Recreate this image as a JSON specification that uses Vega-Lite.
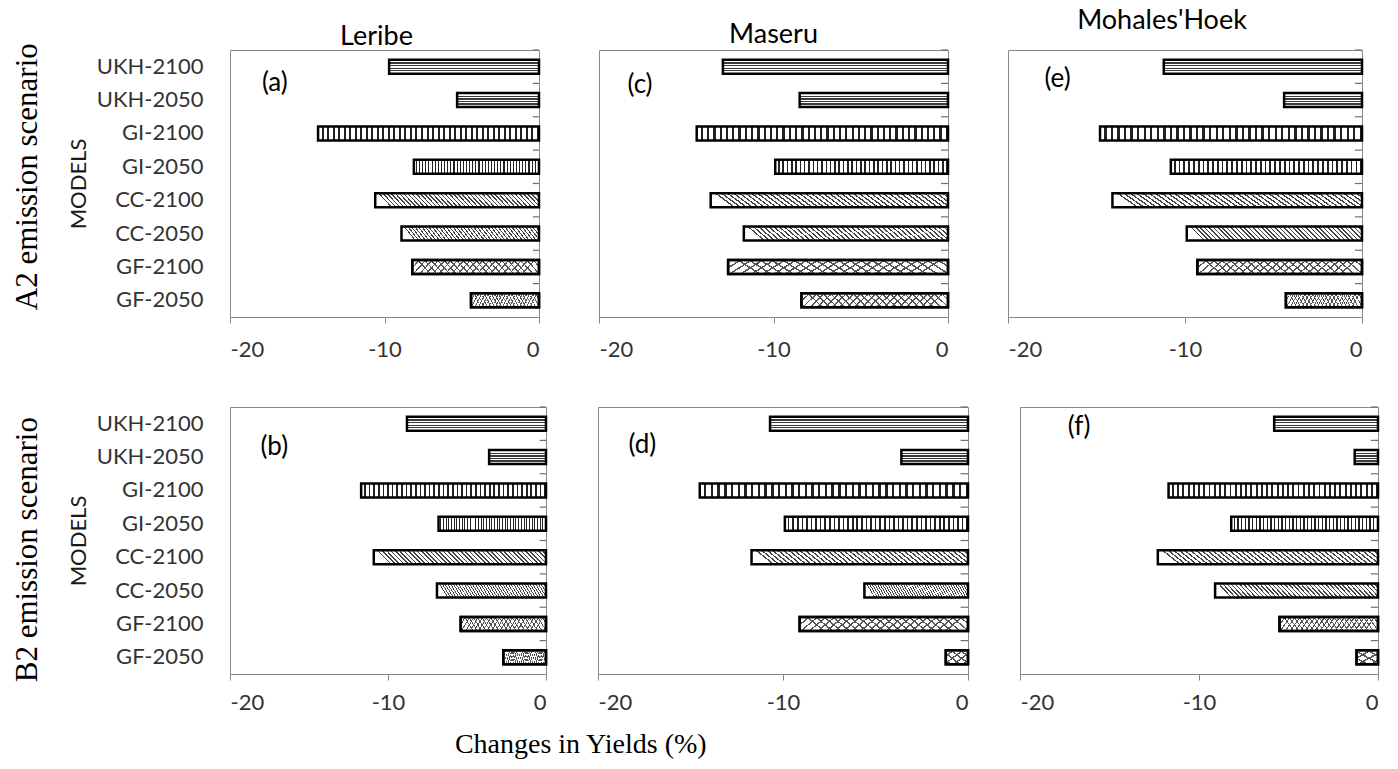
{
"$schema": "https://vega.github.io/schema/vega-lite/v6.json",
"background": "white",
"padding": {"left": 11, "right": 5, "top": 6, "bottom": 5},
"spacing": 44,
"title": {"text": "Changes in Yields (%)", "orient": "bottom", "font": "Liberation Serif", "fontSize": 28, "fontWeight": "normal", "color": "black", "anchor": "middle", "dx": -115, "offset": 17},
"datasets": {"yields": [
{"scenario":"A2","site":"Leribe","model":"UKH-2100","gcm":"UKH","change":-9.7},
{"scenario":"A2","site":"Leribe","model":"UKH-2050","gcm":"UKH","change":-5.3},
{"scenario":"A2","site":"Leribe","model":"GI-2100","gcm":"GI","change":-14.3},
{"scenario":"A2","site":"Leribe","model":"GI-2050","gcm":"GI","change":-8.1},
{"scenario":"A2","site":"Leribe","model":"CC-2100","gcm":"CC","change":-10.6},
{"scenario":"A2","site":"Leribe","model":"CC-2050","gcm":"CC","change":-8.9},
{"scenario":"A2","site":"Leribe","model":"GF-2100","gcm":"GF","change":-8.2},
{"scenario":"A2","site":"Leribe","model":"GF-2050","gcm":"GF","change":-4.4},
{"scenario":"A2","site":"Maseru","model":"UKH-2100","gcm":"UKH","change":-12.9},
{"scenario":"A2","site":"Maseru","model":"UKH-2050","gcm":"UKH","change":-8.5},
{"scenario":"A2","site":"Maseru","model":"GI-2100","gcm":"GI","change":-14.4},
{"scenario":"A2","site":"Maseru","model":"GI-2050","gcm":"GI","change":-9.9},
{"scenario":"A2","site":"Maseru","model":"CC-2100","gcm":"CC","change":-13.6},
{"scenario":"A2","site":"Maseru","model":"CC-2050","gcm":"CC","change":-11.7},
{"scenario":"A2","site":"Maseru","model":"GF-2100","gcm":"GF","change":-12.6},
{"scenario":"A2","site":"Maseru","model":"GF-2050","gcm":"GF","change":-8.4},
{"scenario":"A2","site":"Mohales'Hoek","model":"UKH-2100","gcm":"UKH","change":-11.2},
{"scenario":"A2","site":"Mohales'Hoek","model":"UKH-2050","gcm":"UKH","change":-4.4},
{"scenario":"A2","site":"Mohales'Hoek","model":"GI-2100","gcm":"GI","change":-14.8},
{"scenario":"A2","site":"Mohales'Hoek","model":"GI-2050","gcm":"GI","change":-10.8},
{"scenario":"A2","site":"Mohales'Hoek","model":"CC-2100","gcm":"CC","change":-14.1},
{"scenario":"A2","site":"Mohales'Hoek","model":"CC-2050","gcm":"CC","change":-9.9},
{"scenario":"A2","site":"Mohales'Hoek","model":"GF-2100","gcm":"GF","change":-9.3},
{"scenario":"A2","site":"Mohales'Hoek","model":"GF-2050","gcm":"GF","change":-4.3},
{"scenario":"B2","site":"Leribe","model":"UKH-2100","gcm":"UKH","change":-8.8},
{"scenario":"B2","site":"Leribe","model":"UKH-2050","gcm":"UKH","change":-3.6},
{"scenario":"B2","site":"Leribe","model":"GI-2100","gcm":"GI","change":-11.7},
{"scenario":"B2","site":"Leribe","model":"GI-2050","gcm":"GI","change":-6.8},
{"scenario":"B2","site":"Leribe","model":"CC-2100","gcm":"CC","change":-10.9},
{"scenario":"B2","site":"Leribe","model":"CC-2050","gcm":"CC","change":-6.9},
{"scenario":"B2","site":"Leribe","model":"GF-2100","gcm":"GF","change":-5.4},
{"scenario":"B2","site":"Leribe","model":"GF-2050","gcm":"GF","change":-2.7},
{"scenario":"B2","site":"Maseru","model":"UKH-2100","gcm":"UKH","change":-10.7},
{"scenario":"B2","site":"Maseru","model":"UKH-2050","gcm":"UKH","change":-3.6},
{"scenario":"B2","site":"Maseru","model":"GI-2100","gcm":"GI","change":-14.5},
{"scenario":"B2","site":"Maseru","model":"GI-2050","gcm":"GI","change":-9.9},
{"scenario":"B2","site":"Maseru","model":"CC-2100","gcm":"CC","change":-11.7},
{"scenario":"B2","site":"Maseru","model":"CC-2050","gcm":"CC","change":-5.6},
{"scenario":"B2","site":"Maseru","model":"GF-2100","gcm":"GF","change":-9.1},
{"scenario":"B2","site":"Maseru","model":"GF-2050","gcm":"GF","change":-1.2},
{"scenario":"B2","site":"Mohales'Hoek","model":"UKH-2100","gcm":"UKH","change":-5.8},
{"scenario":"B2","site":"Mohales'Hoek","model":"UKH-2050","gcm":"UKH","change":-1.3},
{"scenario":"B2","site":"Mohales'Hoek","model":"GI-2100","gcm":"GI","change":-11.7},
{"scenario":"B2","site":"Mohales'Hoek","model":"GI-2050","gcm":"GI","change":-8.2},
{"scenario":"B2","site":"Mohales'Hoek","model":"CC-2100","gcm":"CC","change":-12.3},
{"scenario":"B2","site":"Mohales'Hoek","model":"CC-2050","gcm":"CC","change":-9.1},
{"scenario":"B2","site":"Mohales'Hoek","model":"GF-2100","gcm":"GF","change":-5.5},
{"scenario":"B2","site":"Mohales'Hoek","model":"GF-2050","gcm":"GF","change":-1.2}
]},
"vconcat": [
{
"hconcat": [
{
"width": 309, "height": 267,
"title": {"text": "Leribe", "offset": -2, "dx": -8},
"data": {"name": "yields"},
"transform": [{"filter": {"and": [{"field": "scenario", "equal": "A2"}, {"field": "site", "equal": "Leribe"}]}}],
"encoding": {
"x": {"field": "change", "type": "quantitative", "scale": {"domain": [-20, 0], "nice": false, "zero": false}, "axis": {"values": [-20, -10, 0], "title": null, "tickSize": 6, "labelPadding": 16, "labelExpr": "'' + datum.value"}},
"y": {"field": "model", "type": "nominal", "scale": {"domain": ["UKH-2100","UKH-2050","GI-2100","GI-2050","CC-2100","CC-2050","GF-2100","GF-2050"], "paddingInner": 0.58, "paddingOuter": 0.29}, "axis": null}
},
"layer": [
{"transform": [{"filter": {"field": "gcm", "equal": "UKH"}}], "mark": {"type": "bar", "style": "ukh"}, "encoding": {"y": {"field": "model", "type": "nominal", "scale": {"domain": ["UKH-2100","UKH-2050","GI-2100","GI-2050","CC-2100","CC-2050","GF-2100","GF-2050"], "paddingInner": 0.58, "paddingOuter": 0.29}, "axis": {"orient": "left", "ticks": false, "domain": false, "labelPadding": 27, "labelFontSize": 22, "title": "MODELS", "titleFontSize": 22, "titleFontWeight": "normal", "titleColor": "#1a1a1a", "titlePadding": 6}}}},
{"transform": [{"filter": {"field": "gcm", "equal": "GI"}}], "mark": {"type": "bar", "style": "gi"}},
{"transform": [{"filter": {"field": "gcm", "equal": "CC"}}], "mark": {"type": "bar", "style": "cc"}},
{"transform": [{"filter": {"field": "gcm", "equal": "GF"}}], "mark": {"type": "bar", "style": "gf1"}},
{"transform": [{"filter": {"field": "gcm", "equal": "GF"}}], "mark": {"type": "bar", "style": "gf2"}},
{"mark": {"type": "rule", "color": "#6f6f6f", "strokeWidth": 1.2}, "encoding": {"x": {"datum": -0.4, "type": "quantitative", "scale": {"domain": [-20, 0], "nice": false, "zero": false}, "axis": {"values": [-20, -10, 0], "title": null, "tickSize": 6, "labelPadding": 16, "labelExpr": "'' + datum.value"}}, "x2": {"datum": 0}, "y": {"field": "model", "type": "nominal", "bandPosition": -0.6905, "scale": {"domain": ["UKH-2100","UKH-2050","GI-2100","GI-2050","CC-2100","CC-2050","GF-2100","GF-2050"], "paddingInner": 0.58, "paddingOuter": 0.29}, "axis": null}}},
{"transform": [{"filter": {"field": "model", "equal": "UKH-2100"}}], "mark": {"type": "text", "text": "(a)", "fontSize": 26, "font": "Lato", "color": "black", "dy": 16}, "encoding": {"x": {"datum": -17.1, "type": "quantitative", "scale": {"domain": [-20, 0], "nice": false, "zero": false}, "axis": {"values": [-20, -10, 0], "title": null, "tickSize": 6, "labelPadding": 16, "labelExpr": "'' + datum.value"}}, "y": {"datum": "UKH-2100", "type": "nominal", "scale": {"domain": ["UKH-2100","UKH-2050","GI-2100","GI-2050","CC-2100","CC-2050","GF-2100","GF-2050"], "paddingInner": 0.58, "paddingOuter": 0.29}, "axis": null}}}
],
"resolve": {"axis": {"y": "independent"}}
},
{
"width": 349, "height": 267,
"title": {"text": "Maseru", "offset": 0, "dx": 0},
"data": {"name": "yields"},
"transform": [{"filter": {"and": [{"field": "scenario", "equal": "A2"}, {"field": "site", "equal": "Maseru"}]}}],
"encoding": {
"x": {"field": "change", "type": "quantitative", "scale": {"domain": [-20, 0], "nice": false, "zero": false}, "axis": {"values": [-20, -10, 0], "title": null, "tickSize": 6, "labelPadding": 16, "labelExpr": "'' + datum.value"}},
"y": {"field": "model", "type": "nominal", "scale": {"domain": ["UKH-2100","UKH-2050","GI-2100","GI-2050","CC-2100","CC-2050","GF-2100","GF-2050"], "paddingInner": 0.58, "paddingOuter": 0.29}, "axis": null}
},
"layer": [
{"transform": [{"filter": {"field": "gcm", "equal": "UKH"}}], "mark": {"type": "bar", "style": "ukh"}},
{"transform": [{"filter": {"field": "gcm", "equal": "GI"}}], "mark": {"type": "bar", "style": "gi"}},
{"transform": [{"filter": {"field": "gcm", "equal": "CC"}}], "mark": {"type": "bar", "style": "cc"}},
{"transform": [{"filter": {"field": "gcm", "equal": "GF"}}], "mark": {"type": "bar", "style": "gf1"}},
{"transform": [{"filter": {"field": "gcm", "equal": "GF"}}], "mark": {"type": "bar", "style": "gf2"}},
{"mark": {"type": "rule", "color": "#6f6f6f", "strokeWidth": 1.2}, "encoding": {"x": {"datum": -0.4, "type": "quantitative", "scale": {"domain": [-20, 0], "nice": false, "zero": false}, "axis": {"values": [-20, -10, 0], "title": null, "tickSize": 6, "labelPadding": 16, "labelExpr": "'' + datum.value"}}, "x2": {"datum": 0}, "y": {"field": "model", "type": "nominal", "bandPosition": -0.6905, "scale": {"domain": ["UKH-2100","UKH-2050","GI-2100","GI-2050","CC-2100","CC-2050","GF-2100","GF-2050"], "paddingInner": 0.58, "paddingOuter": 0.29}, "axis": null}}},
{"transform": [{"filter": {"field": "model", "equal": "UKH-2100"}}], "mark": {"type": "text", "text": "(c)", "fontSize": 26, "font": "Lato", "color": "black", "dy": 18}, "encoding": {"x": {"datum": -17.65, "type": "quantitative", "scale": {"domain": [-20, 0], "nice": false, "zero": false}, "axis": {"values": [-20, -10, 0], "title": null, "tickSize": 6, "labelPadding": 16, "labelExpr": "'' + datum.value"}}, "y": {"datum": "UKH-2100", "type": "nominal", "scale": {"domain": ["UKH-2100","UKH-2050","GI-2100","GI-2050","CC-2100","CC-2050","GF-2100","GF-2050"], "paddingInner": 0.58, "paddingOuter": 0.29}, "axis": null}}}
],
"resolve": {"axis": {"y": "independent"}}
},
{
"width": 354, "height": 267,
"title": {"text": "Mohales'Hoek", "offset": 14, "dx": -23},
"data": {"name": "yields"},
"transform": [{"filter": {"and": [{"field": "scenario", "equal": "A2"}, {"field": "site", "equal": "Mohales'Hoek"}]}}],
"encoding": {
"x": {"field": "change", "type": "quantitative", "scale": {"domain": [-20, 0], "nice": false, "zero": false}, "axis": {"values": [-20, -10, 0], "title": null, "tickSize": 6, "labelPadding": 16, "labelExpr": "'' + datum.value"}},
"y": {"field": "model", "type": "nominal", "scale": {"domain": ["UKH-2100","UKH-2050","GI-2100","GI-2050","CC-2100","CC-2050","GF-2100","GF-2050"], "paddingInner": 0.58, "paddingOuter": 0.29}, "axis": null}
},
"layer": [
{"transform": [{"filter": {"field": "gcm", "equal": "UKH"}}], "mark": {"type": "bar", "style": "ukh"}},
{"transform": [{"filter": {"field": "gcm", "equal": "GI"}}], "mark": {"type": "bar", "style": "gi"}},
{"transform": [{"filter": {"field": "gcm", "equal": "CC"}}], "mark": {"type": "bar", "style": "cc"}},
{"transform": [{"filter": {"field": "gcm", "equal": "GF"}}], "mark": {"type": "bar", "style": "gf1"}},
{"transform": [{"filter": {"field": "gcm", "equal": "GF"}}], "mark": {"type": "bar", "style": "gf2"}},
{"mark": {"type": "rule", "color": "#6f6f6f", "strokeWidth": 1.2}, "encoding": {"x": {"datum": -0.4, "type": "quantitative", "scale": {"domain": [-20, 0], "nice": false, "zero": false}, "axis": {"values": [-20, -10, 0], "title": null, "tickSize": 6, "labelPadding": 16, "labelExpr": "'' + datum.value"}}, "x2": {"datum": 0}, "y": {"field": "model", "type": "nominal", "bandPosition": -0.6905, "scale": {"domain": ["UKH-2100","UKH-2050","GI-2100","GI-2050","CC-2100","CC-2050","GF-2100","GF-2050"], "paddingInner": 0.58, "paddingOuter": 0.29}, "axis": null}}},
{"transform": [{"filter": {"field": "model", "equal": "UKH-2100"}}], "mark": {"type": "text", "text": "(e)", "fontSize": 26, "font": "Lato", "color": "black", "dy": 12}, "encoding": {"x": {"datum": -17.2, "type": "quantitative", "scale": {"domain": [-20, 0], "nice": false, "zero": false}, "axis": {"values": [-20, -10, 0], "title": null, "tickSize": 6, "labelPadding": 16, "labelExpr": "'' + datum.value"}}, "y": {"datum": "UKH-2100", "type": "nominal", "scale": {"domain": ["UKH-2100","UKH-2050","GI-2100","GI-2050","CC-2100","CC-2050","GF-2100","GF-2050"], "paddingInner": 0.58, "paddingOuter": 0.29}, "axis": null}}}
],
"resolve": {"axis": {"y": "independent"}}
}
],
"spacing": 60,
"bounds": "flush",
"title": {"text": "A2 emission scenario", "orient": "left", "font": "Liberation Serif", "fontSize": 31, "fontWeight": "normal", "color": "black", "anchor": "middle", "offset": 23, "dx": 7}
},
{
"hconcat": [
{
"width": 316, "height": 267,
"data": {"name": "yields"},
"transform": [{"filter": {"and": [{"field": "scenario", "equal": "B2"}, {"field": "site", "equal": "Leribe"}]}}],
"encoding": {
"x": {"field": "change", "type": "quantitative", "scale": {"domain": [-20, 0], "nice": false, "zero": false}, "axis": {"values": [-20, -10, 0], "title": null, "tickSize": 6, "labelPadding": 12, "labelExpr": "'' + datum.value"}},
"y": {"field": "model", "type": "nominal", "scale": {"domain": ["UKH-2100","UKH-2050","GI-2100","GI-2050","CC-2100","CC-2050","GF-2100","GF-2050"], "paddingInner": 0.58, "paddingOuter": 0.29}, "axis": null}
},
"layer": [
{"transform": [{"filter": {"field": "gcm", "equal": "UKH"}}], "mark": {"type": "bar", "style": "ukh"}, "encoding": {"y": {"field": "model", "type": "nominal", "scale": {"domain": ["UKH-2100","UKH-2050","GI-2100","GI-2050","CC-2100","CC-2050","GF-2100","GF-2050"], "paddingInner": 0.58, "paddingOuter": 0.29}, "axis": {"orient": "left", "ticks": false, "domain": false, "labelPadding": 27, "labelFontSize": 22, "title": "MODELS", "titleFontSize": 22, "titleFontWeight": "normal", "titleColor": "#1a1a1a", "titlePadding": 6}}}},
{"transform": [{"filter": {"field": "gcm", "equal": "GI"}}], "mark": {"type": "bar", "style": "gi"}},
{"transform": [{"filter": {"field": "gcm", "equal": "CC"}}], "mark": {"type": "bar", "style": "cc"}},
{"transform": [{"filter": {"field": "gcm", "equal": "GF"}}], "mark": {"type": "bar", "style": "gf1"}},
{"transform": [{"filter": {"field": "gcm", "equal": "GF"}}], "mark": {"type": "bar", "style": "gf2"}},
{"mark": {"type": "rule", "color": "#6f6f6f", "strokeWidth": 1.2}, "encoding": {"x": {"datum": -0.4, "type": "quantitative", "scale": {"domain": [-20, 0], "nice": false, "zero": false}, "axis": {"values": [-20, -10, 0], "title": null, "tickSize": 6, "labelPadding": 12, "labelExpr": "'' + datum.value"}}, "x2": {"datum": 0}, "y": {"field": "model", "type": "nominal", "bandPosition": -0.6905, "scale": {"domain": ["UKH-2100","UKH-2050","GI-2100","GI-2050","CC-2100","CC-2050","GF-2100","GF-2050"], "paddingInner": 0.58, "paddingOuter": 0.29}, "axis": null}}},
{"transform": [{"filter": {"field": "model", "equal": "UKH-2100"}}], "mark": {"type": "text", "text": "(b)", "fontSize": 26, "font": "Lato", "color": "black", "dy": 23}, "encoding": {"x": {"datum": -17.2, "type": "quantitative", "scale": {"domain": [-20, 0], "nice": false, "zero": false}, "axis": {"values": [-20, -10, 0], "title": null, "tickSize": 6, "labelPadding": 12, "labelExpr": "'' + datum.value"}}, "y": {"datum": "UKH-2100", "type": "nominal", "scale": {"domain": ["UKH-2100","UKH-2050","GI-2100","GI-2050","CC-2100","CC-2050","GF-2100","GF-2050"], "paddingInner": 0.58, "paddingOuter": 0.29}, "axis": null}}}
],
"resolve": {"axis": {"y": "independent"}}
},
{
"width": 370, "height": 267,
"data": {"name": "yields"},
"transform": [{"filter": {"and": [{"field": "scenario", "equal": "B2"}, {"field": "site", "equal": "Maseru"}]}}],
"encoding": {
"x": {"field": "change", "type": "quantitative", "scale": {"domain": [-20, 0], "nice": false, "zero": false}, "axis": {"values": [-20, -10, 0], "title": null, "tickSize": 6, "labelPadding": 12, "labelExpr": "'' + datum.value"}},
"y": {"field": "model", "type": "nominal", "scale": {"domain": ["UKH-2100","UKH-2050","GI-2100","GI-2050","CC-2100","CC-2050","GF-2100","GF-2050"], "paddingInner": 0.58, "paddingOuter": 0.29}, "axis": null}
},
"layer": [
{"transform": [{"filter": {"field": "gcm", "equal": "UKH"}}], "mark": {"type": "bar", "style": "ukh"}},
{"transform": [{"filter": {"field": "gcm", "equal": "GI"}}], "mark": {"type": "bar", "style": "gi"}},
{"transform": [{"filter": {"field": "gcm", "equal": "CC"}}], "mark": {"type": "bar", "style": "cc"}},
{"transform": [{"filter": {"field": "gcm", "equal": "GF"}}], "mark": {"type": "bar", "style": "gf1"}},
{"transform": [{"filter": {"field": "gcm", "equal": "GF"}}], "mark": {"type": "bar", "style": "gf2"}},
{"mark": {"type": "rule", "color": "#6f6f6f", "strokeWidth": 1.2}, "encoding": {"x": {"datum": -0.4, "type": "quantitative", "scale": {"domain": [-20, 0], "nice": false, "zero": false}, "axis": {"values": [-20, -10, 0], "title": null, "tickSize": 6, "labelPadding": 12, "labelExpr": "'' + datum.value"}}, "x2": {"datum": 0}, "y": {"field": "model", "type": "nominal", "bandPosition": -0.6905, "scale": {"domain": ["UKH-2100","UKH-2050","GI-2100","GI-2050","CC-2100","CC-2050","GF-2100","GF-2050"], "paddingInner": 0.58, "paddingOuter": 0.29}, "axis": null}}},
{"transform": [{"filter": {"field": "model", "equal": "UKH-2100"}}], "mark": {"type": "text", "text": "(d)", "fontSize": 26, "font": "Lato", "color": "black", "dy": 21}, "encoding": {"x": {"datum": -17.6, "type": "quantitative", "scale": {"domain": [-20, 0], "nice": false, "zero": false}, "axis": {"values": [-20, -10, 0], "title": null, "tickSize": 6, "labelPadding": 12, "labelExpr": "'' + datum.value"}}, "y": {"datum": "UKH-2100", "type": "nominal", "scale": {"domain": ["UKH-2100","UKH-2050","GI-2100","GI-2050","CC-2100","CC-2050","GF-2100","GF-2050"], "paddingInner": 0.58, "paddingOuter": 0.29}, "axis": null}}}
],
"resolve": {"axis": {"y": "independent"}}
},
{
"width": 358, "height": 267,
"data": {"name": "yields"},
"transform": [{"filter": {"and": [{"field": "scenario", "equal": "B2"}, {"field": "site", "equal": "Mohales'Hoek"}]}}],
"encoding": {
"x": {"field": "change", "type": "quantitative", "scale": {"domain": [-20, 0], "nice": false, "zero": false}, "axis": {"values": [-20, -10, 0], "title": null, "tickSize": 6, "labelPadding": 12, "labelExpr": "'' + datum.value"}},
"y": {"field": "model", "type": "nominal", "scale": {"domain": ["UKH-2100","UKH-2050","GI-2100","GI-2050","CC-2100","CC-2050","GF-2100","GF-2050"], "paddingInner": 0.58, "paddingOuter": 0.29}, "axis": null}
},
"layer": [
{"transform": [{"filter": {"field": "gcm", "equal": "UKH"}}], "mark": {"type": "bar", "style": "ukh"}},
{"transform": [{"filter": {"field": "gcm", "equal": "GI"}}], "mark": {"type": "bar", "style": "gi"}},
{"transform": [{"filter": {"field": "gcm", "equal": "CC"}}], "mark": {"type": "bar", "style": "cc"}},
{"transform": [{"filter": {"field": "gcm", "equal": "GF"}}], "mark": {"type": "bar", "style": "gf1"}},
{"transform": [{"filter": {"field": "gcm", "equal": "GF"}}], "mark": {"type": "bar", "style": "gf2"}},
{"mark": {"type": "rule", "color": "#6f6f6f", "strokeWidth": 1.2}, "encoding": {"x": {"datum": -0.4, "type": "quantitative", "scale": {"domain": [-20, 0], "nice": false, "zero": false}, "axis": {"values": [-20, -10, 0], "title": null, "tickSize": 6, "labelPadding": 12, "labelExpr": "'' + datum.value"}}, "x2": {"datum": 0}, "y": {"field": "model", "type": "nominal", "bandPosition": -0.6905, "scale": {"domain": ["UKH-2100","UKH-2050","GI-2100","GI-2050","CC-2100","CC-2050","GF-2100","GF-2050"], "paddingInner": 0.58, "paddingOuter": 0.29}, "axis": null}}},
{"transform": [{"filter": {"field": "model", "equal": "UKH-2100"}}], "mark": {"type": "text", "text": "(f)", "fontSize": 26, "font": "Lato", "color": "black", "dy": 3}, "encoding": {"x": {"datum": -16.7, "type": "quantitative", "scale": {"domain": [-20, 0], "nice": false, "zero": false}, "axis": {"values": [-20, -10, 0], "title": null, "tickSize": 6, "labelPadding": 12, "labelExpr": "'' + datum.value"}}, "y": {"datum": "UKH-2100", "type": "nominal", "scale": {"domain": ["UKH-2100","UKH-2050","GI-2100","GI-2050","CC-2100","CC-2050","GF-2100","GF-2050"], "paddingInner": 0.58, "paddingOuter": 0.29}, "axis": null}}}
],
"resolve": {"axis": {"y": "independent"}}
}
],
"spacing": 52,
"bounds": "flush",
"title": {"text": "B2 emission scenario", "orient": "left", "font": "Liberation Serif", "fontSize": 31, "fontWeight": "normal", "color": "black", "anchor": "middle", "offset": 23, "dx": 10}
}
],
"config": {
"view": {"stroke": "#898989", "strokeWidth": 1},
"axis": {"labelFont": "Lato", "labelFontSize": 22, "labelColor": "#333333", "domainColor": "#898989", "tickColor": "#898989", "titleFont": "Lato", "grid": false},
"title": {"font": "Lato", "fontSize": 27, "fontWeight": "normal", "color": "black"},
"style": {
"ukh": {"stroke": "#000000", "strokeWidth": 2.5, "color": {"gradient": "linear", "x1": 0, "y1": 0, "x2": 0, "y2": 1, "stops": [
{"offset":0,"color":"#ffffff"},{"offset":0.2,"color":"#ffffff"},{"offset":0.2,"color":"#3a3a3a"},{"offset":0.3,"color":"#3a3a3a"},{"offset":0.3,"color":"#ffffff"},
{"offset":0.38,"color":"#ffffff"},{"offset":0.38,"color":"#3a3a3a"},{"offset":0.48,"color":"#3a3a3a"},{"offset":0.48,"color":"#ffffff"},
{"offset":0.56,"color":"#ffffff"},{"offset":0.56,"color":"#3a3a3a"},{"offset":0.66,"color":"#3a3a3a"},{"offset":0.66,"color":"#ffffff"},
{"offset":0.74,"color":"#ffffff"},{"offset":0.74,"color":"#3a3a3a"},{"offset":0.84,"color":"#3a3a3a"},{"offset":0.84,"color":"#ffffff"},
{"offset":1,"color":"#ffffff"}]}},
"gi": {"stroke": "#000000", "strokeWidth": 2.5, "color": {"gradient": "linear", "x1": 0, "y1": 0, "x2": 1, "y2": 0, "stops": [
{"offset":0,"color":"#fff"},{"offset":0.016,"color":"#fff"},{"offset":0.016,"color":"#222"},{"offset":0.025,"color":"#222"},
{"offset":0.025,"color":"#fff"},{"offset":0.041,"color":"#fff"},{"offset":0.041,"color":"#222"},{"offset":0.05,"color":"#222"},
{"offset":0.05,"color":"#fff"},{"offset":0.066,"color":"#fff"},{"offset":0.066,"color":"#222"},{"offset":0.075,"color":"#222"},
{"offset":0.075,"color":"#fff"},{"offset":0.091,"color":"#fff"},{"offset":0.091,"color":"#222"},{"offset":0.1,"color":"#222"},
{"offset":0.1,"color":"#fff"},{"offset":0.116,"color":"#fff"},{"offset":0.116,"color":"#222"},{"offset":0.125,"color":"#222"},
{"offset":0.125,"color":"#fff"},{"offset":0.141,"color":"#fff"},{"offset":0.141,"color":"#222"},{"offset":0.15,"color":"#222"},
{"offset":0.15,"color":"#fff"},{"offset":0.166,"color":"#fff"},{"offset":0.166,"color":"#222"},{"offset":0.175,"color":"#222"},
{"offset":0.175,"color":"#fff"},{"offset":0.191,"color":"#fff"},{"offset":0.191,"color":"#222"},{"offset":0.2,"color":"#222"},
{"offset":0.2,"color":"#fff"},{"offset":0.216,"color":"#fff"},{"offset":0.216,"color":"#222"},{"offset":0.225,"color":"#222"},
{"offset":0.225,"color":"#fff"},{"offset":0.241,"color":"#fff"},{"offset":0.241,"color":"#222"},{"offset":0.25,"color":"#222"},
{"offset":0.25,"color":"#fff"},{"offset":0.266,"color":"#fff"},{"offset":0.266,"color":"#222"},{"offset":0.275,"color":"#222"},
{"offset":0.275,"color":"#fff"},{"offset":0.291,"color":"#fff"},{"offset":0.291,"color":"#222"},{"offset":0.3,"color":"#222"},
{"offset":0.3,"color":"#fff"},{"offset":0.316,"color":"#fff"},{"offset":0.316,"color":"#222"},{"offset":0.325,"color":"#222"},
{"offset":0.325,"color":"#fff"},{"offset":0.341,"color":"#fff"},{"offset":0.341,"color":"#222"},{"offset":0.35,"color":"#222"},
{"offset":0.35,"color":"#fff"},{"offset":0.366,"color":"#fff"},{"offset":0.366,"color":"#222"},{"offset":0.375,"color":"#222"},
{"offset":0.375,"color":"#fff"},{"offset":0.391,"color":"#fff"},{"offset":0.391,"color":"#222"},{"offset":0.4,"color":"#222"},
{"offset":0.4,"color":"#fff"},{"offset":0.416,"color":"#fff"},{"offset":0.416,"color":"#222"},{"offset":0.425,"color":"#222"},
{"offset":0.425,"color":"#fff"},{"offset":0.441,"color":"#fff"},{"offset":0.441,"color":"#222"},{"offset":0.45,"color":"#222"},
{"offset":0.45,"color":"#fff"},{"offset":0.466,"color":"#fff"},{"offset":0.466,"color":"#222"},{"offset":0.475,"color":"#222"},
{"offset":0.475,"color":"#fff"},{"offset":0.491,"color":"#fff"},{"offset":0.491,"color":"#222"},{"offset":0.5,"color":"#222"},
{"offset":0.5,"color":"#fff"},{"offset":0.516,"color":"#fff"},{"offset":0.516,"color":"#222"},{"offset":0.525,"color":"#222"},
{"offset":0.525,"color":"#fff"},{"offset":0.541,"color":"#fff"},{"offset":0.541,"color":"#222"},{"offset":0.55,"color":"#222"},
{"offset":0.55,"color":"#fff"},{"offset":0.566,"color":"#fff"},{"offset":0.566,"color":"#222"},{"offset":0.575,"color":"#222"},
{"offset":0.575,"color":"#fff"},{"offset":0.591,"color":"#fff"},{"offset":0.591,"color":"#222"},{"offset":0.6,"color":"#222"},
{"offset":0.6,"color":"#fff"},{"offset":0.616,"color":"#fff"},{"offset":0.616,"color":"#222"},{"offset":0.625,"color":"#222"},
{"offset":0.625,"color":"#fff"},{"offset":0.641,"color":"#fff"},{"offset":0.641,"color":"#222"},{"offset":0.65,"color":"#222"},
{"offset":0.65,"color":"#fff"},{"offset":0.666,"color":"#fff"},{"offset":0.666,"color":"#222"},{"offset":0.675,"color":"#222"},
{"offset":0.675,"color":"#fff"},{"offset":0.691,"color":"#fff"},{"offset":0.691,"color":"#222"},{"offset":0.7,"color":"#222"},
{"offset":0.7,"color":"#fff"},{"offset":0.716,"color":"#fff"},{"offset":0.716,"color":"#222"},{"offset":0.725,"color":"#222"},
{"offset":0.725,"color":"#fff"},{"offset":0.741,"color":"#fff"},{"offset":0.741,"color":"#222"},{"offset":0.75,"color":"#222"},
{"offset":0.75,"color":"#fff"},{"offset":0.766,"color":"#fff"},{"offset":0.766,"color":"#222"},{"offset":0.775,"color":"#222"},
{"offset":0.775,"color":"#fff"},{"offset":0.791,"color":"#fff"},{"offset":0.791,"color":"#222"},{"offset":0.8,"color":"#222"},
{"offset":0.8,"color":"#fff"},{"offset":0.816,"color":"#fff"},{"offset":0.816,"color":"#222"},{"offset":0.825,"color":"#222"},
{"offset":0.825,"color":"#fff"},{"offset":0.841,"color":"#fff"},{"offset":0.841,"color":"#222"},{"offset":0.85,"color":"#222"},
{"offset":0.85,"color":"#fff"},{"offset":0.866,"color":"#fff"},{"offset":0.866,"color":"#222"},{"offset":0.875,"color":"#222"},
{"offset":0.875,"color":"#fff"},{"offset":0.891,"color":"#fff"},{"offset":0.891,"color":"#222"},{"offset":0.9,"color":"#222"},
{"offset":0.9,"color":"#fff"},{"offset":0.916,"color":"#fff"},{"offset":0.916,"color":"#222"},{"offset":0.925,"color":"#222"},
{"offset":0.925,"color":"#fff"},{"offset":0.941,"color":"#fff"},{"offset":0.941,"color":"#222"},{"offset":0.95,"color":"#222"},
{"offset":0.95,"color":"#fff"},{"offset":0.966,"color":"#fff"},{"offset":0.966,"color":"#222"},{"offset":0.975,"color":"#222"},
{"offset":0.975,"color":"#fff"},{"offset":0.991,"color":"#fff"},{"offset":0.991,"color":"#222"},{"offset":1,"color":"#222"}]}},
"cc": {"stroke": "#000000", "strokeWidth": 2.5, "color": {"gradient": "linear", "x1": 0, "y1": 0, "x2": 1, "y2": -0.08, "stops": [
{"offset":0,"color":"#fff"},{"offset":0.016,"color":"#fff"},{"offset":0.016,"color":"#444"},{"offset":0.025,"color":"#444"},
{"offset":0.025,"color":"#fff"},{"offset":0.041,"color":"#fff"},{"offset":0.041,"color":"#444"},{"offset":0.05,"color":"#444"},
{"offset":0.05,"color":"#fff"},{"offset":0.066,"color":"#fff"},{"offset":0.066,"color":"#444"},{"offset":0.075,"color":"#444"},
{"offset":0.075,"color":"#fff"},{"offset":0.091,"color":"#fff"},{"offset":0.091,"color":"#444"},{"offset":0.1,"color":"#444"},
{"offset":0.1,"color":"#fff"},{"offset":0.116,"color":"#fff"},{"offset":0.116,"color":"#444"},{"offset":0.125,"color":"#444"},
{"offset":0.125,"color":"#fff"},{"offset":0.141,"color":"#fff"},{"offset":0.141,"color":"#444"},{"offset":0.15,"color":"#444"},
{"offset":0.15,"color":"#fff"},{"offset":0.166,"color":"#fff"},{"offset":0.166,"color":"#444"},{"offset":0.175,"color":"#444"},
{"offset":0.175,"color":"#fff"},{"offset":0.191,"color":"#fff"},{"offset":0.191,"color":"#444"},{"offset":0.2,"color":"#444"},
{"offset":0.2,"color":"#fff"},{"offset":0.216,"color":"#fff"},{"offset":0.216,"color":"#444"},{"offset":0.225,"color":"#444"},
{"offset":0.225,"color":"#fff"},{"offset":0.241,"color":"#fff"},{"offset":0.241,"color":"#444"},{"offset":0.25,"color":"#444"},
{"offset":0.25,"color":"#fff"},{"offset":0.266,"color":"#fff"},{"offset":0.266,"color":"#444"},{"offset":0.275,"color":"#444"},
{"offset":0.275,"color":"#fff"},{"offset":0.291,"color":"#fff"},{"offset":0.291,"color":"#444"},{"offset":0.3,"color":"#444"},
{"offset":0.3,"color":"#fff"},{"offset":0.316,"color":"#fff"},{"offset":0.316,"color":"#444"},{"offset":0.325,"color":"#444"},
{"offset":0.325,"color":"#fff"},{"offset":0.341,"color":"#fff"},{"offset":0.341,"color":"#444"},{"offset":0.35,"color":"#444"},
{"offset":0.35,"color":"#fff"},{"offset":0.366,"color":"#fff"},{"offset":0.366,"color":"#444"},{"offset":0.375,"color":"#444"},
{"offset":0.375,"color":"#fff"},{"offset":0.391,"color":"#fff"},{"offset":0.391,"color":"#444"},{"offset":0.4,"color":"#444"},
{"offset":0.4,"color":"#fff"},{"offset":0.416,"color":"#fff"},{"offset":0.416,"color":"#444"},{"offset":0.425,"color":"#444"},
{"offset":0.425,"color":"#fff"},{"offset":0.441,"color":"#fff"},{"offset":0.441,"color":"#444"},{"offset":0.45,"color":"#444"},
{"offset":0.45,"color":"#fff"},{"offset":0.466,"color":"#fff"},{"offset":0.466,"color":"#444"},{"offset":0.475,"color":"#444"},
{"offset":0.475,"color":"#fff"},{"offset":0.491,"color":"#fff"},{"offset":0.491,"color":"#444"},{"offset":0.5,"color":"#444"},
{"offset":0.5,"color":"#fff"},{"offset":0.516,"color":"#fff"},{"offset":0.516,"color":"#444"},{"offset":0.525,"color":"#444"},
{"offset":0.525,"color":"#fff"},{"offset":0.541,"color":"#fff"},{"offset":0.541,"color":"#444"},{"offset":0.55,"color":"#444"},
{"offset":0.55,"color":"#fff"},{"offset":0.566,"color":"#fff"},{"offset":0.566,"color":"#444"},{"offset":0.575,"color":"#444"},
{"offset":0.575,"color":"#fff"},{"offset":0.591,"color":"#fff"},{"offset":0.591,"color":"#444"},{"offset":0.6,"color":"#444"},
{"offset":0.6,"color":"#fff"},{"offset":0.616,"color":"#fff"},{"offset":0.616,"color":"#444"},{"offset":0.625,"color":"#444"},
{"offset":0.625,"color":"#fff"},{"offset":0.641,"color":"#fff"},{"offset":0.641,"color":"#444"},{"offset":0.65,"color":"#444"},
{"offset":0.65,"color":"#fff"},{"offset":0.666,"color":"#fff"},{"offset":0.666,"color":"#444"},{"offset":0.675,"color":"#444"},
{"offset":0.675,"color":"#fff"},{"offset":0.691,"color":"#fff"},{"offset":0.691,"color":"#444"},{"offset":0.7,"color":"#444"},
{"offset":0.7,"color":"#fff"},{"offset":0.716,"color":"#fff"},{"offset":0.716,"color":"#444"},{"offset":0.725,"color":"#444"},
{"offset":0.725,"color":"#fff"},{"offset":0.741,"color":"#fff"},{"offset":0.741,"color":"#444"},{"offset":0.75,"color":"#444"},
{"offset":0.75,"color":"#fff"},{"offset":0.766,"color":"#fff"},{"offset":0.766,"color":"#444"},{"offset":0.775,"color":"#444"},
{"offset":0.775,"color":"#fff"},{"offset":0.791,"color":"#fff"},{"offset":0.791,"color":"#444"},{"offset":0.8,"color":"#444"},
{"offset":0.8,"color":"#fff"},{"offset":0.816,"color":"#fff"},{"offset":0.816,"color":"#444"},{"offset":0.825,"color":"#444"},
{"offset":0.825,"color":"#fff"},{"offset":0.841,"color":"#fff"},{"offset":0.841,"color":"#444"},{"offset":0.85,"color":"#444"},
{"offset":0.85,"color":"#fff"},{"offset":0.866,"color":"#fff"},{"offset":0.866,"color":"#444"},{"offset":0.875,"color":"#444"},
{"offset":0.875,"color":"#fff"},{"offset":0.891,"color":"#fff"},{"offset":0.891,"color":"#444"},{"offset":0.9,"color":"#444"},
{"offset":0.9,"color":"#fff"},{"offset":0.916,"color":"#fff"},{"offset":0.916,"color":"#444"},{"offset":0.925,"color":"#444"},
{"offset":0.925,"color":"#fff"},{"offset":0.941,"color":"#fff"},{"offset":0.941,"color":"#444"},{"offset":0.95,"color":"#444"},
{"offset":0.95,"color":"#fff"},{"offset":0.966,"color":"#fff"},{"offset":0.966,"color":"#444"},{"offset":0.975,"color":"#444"},
{"offset":0.975,"color":"#fff"},{"offset":0.991,"color":"#fff"},{"offset":0.991,"color":"#444"},{"offset":1,"color":"#444"}]}},
"gf1": {"stroke": "#000000", "strokeWidth": 2.5, "color": {"gradient": "linear", "x1": 0, "y1": 0, "x2": 1, "y2": -0.1, "stops": [
{"offset":0,"color":"#fff"},{"offset":0.038,"color":"#fff"},{"offset":0.038,"color":"#555"},{"offset":0.05,"color":"#555"},
{"offset":0.05,"color":"#fff"},{"offset":0.088,"color":"#fff"},{"offset":0.088,"color":"#555"},{"offset":0.1,"color":"#555"},
{"offset":0.1,"color":"#fff"},{"offset":0.138,"color":"#fff"},{"offset":0.138,"color":"#555"},{"offset":0.15,"color":"#555"},
{"offset":0.15,"color":"#fff"},{"offset":0.188,"color":"#fff"},{"offset":0.188,"color":"#555"},{"offset":0.2,"color":"#555"},
{"offset":0.2,"color":"#fff"},{"offset":0.238,"color":"#fff"},{"offset":0.238,"color":"#555"},{"offset":0.25,"color":"#555"},
{"offset":0.25,"color":"#fff"},{"offset":0.288,"color":"#fff"},{"offset":0.288,"color":"#555"},{"offset":0.3,"color":"#555"},
{"offset":0.3,"color":"#fff"},{"offset":0.338,"color":"#fff"},{"offset":0.338,"color":"#555"},{"offset":0.35,"color":"#555"},
{"offset":0.35,"color":"#fff"},{"offset":0.388,"color":"#fff"},{"offset":0.388,"color":"#555"},{"offset":0.4,"color":"#555"},
{"offset":0.4,"color":"#fff"},{"offset":0.438,"color":"#fff"},{"offset":0.438,"color":"#555"},{"offset":0.45,"color":"#555"},
{"offset":0.45,"color":"#fff"},{"offset":0.488,"color":"#fff"},{"offset":0.488,"color":"#555"},{"offset":0.5,"color":"#555"},
{"offset":0.5,"color":"#fff"},{"offset":0.538,"color":"#fff"},{"offset":0.538,"color":"#555"},{"offset":0.55,"color":"#555"},
{"offset":0.55,"color":"#fff"},{"offset":0.588,"color":"#fff"},{"offset":0.588,"color":"#555"},{"offset":0.6,"color":"#555"},
{"offset":0.6,"color":"#fff"},{"offset":0.638,"color":"#fff"},{"offset":0.638,"color":"#555"},{"offset":0.65,"color":"#555"},
{"offset":0.65,"color":"#fff"},{"offset":0.688,"color":"#fff"},{"offset":0.688,"color":"#555"},{"offset":0.7,"color":"#555"},
{"offset":0.7,"color":"#fff"},{"offset":0.738,"color":"#fff"},{"offset":0.738,"color":"#555"},{"offset":0.75,"color":"#555"},
{"offset":0.75,"color":"#fff"},{"offset":0.788,"color":"#fff"},{"offset":0.788,"color":"#555"},{"offset":0.8,"color":"#555"},
{"offset":0.8,"color":"#fff"},{"offset":0.838,"color":"#fff"},{"offset":0.838,"color":"#555"},{"offset":0.85,"color":"#555"},
{"offset":0.85,"color":"#fff"},{"offset":0.888,"color":"#fff"},{"offset":0.888,"color":"#555"},{"offset":0.9,"color":"#555"},
{"offset":0.9,"color":"#fff"},{"offset":0.938,"color":"#fff"},{"offset":0.938,"color":"#555"},{"offset":0.95,"color":"#555"},
{"offset":0.95,"color":"#fff"},{"offset":0.988,"color":"#fff"},{"offset":0.988,"color":"#555"},{"offset":1,"color":"#555"}]}},
"gf2": {"stroke": "#000000", "strokeWidth": 2.5, "color": {"gradient": "linear", "x1": 0, "y1": 0, "x2": 1, "y2": 0.1, "stops": [
{"offset":0,"color":"#555"},{"offset":0.012,"color":"#555"},{"offset":0.012,"color":"rgba(255,255,255,0)"},{"offset":0.05,"color":"rgba(255,255,255,0)"},
{"offset":0.05,"color":"#555"},{"offset":0.062,"color":"#555"},{"offset":0.062,"color":"rgba(255,255,255,0)"},{"offset":0.1,"color":"rgba(255,255,255,0)"},
{"offset":0.1,"color":"#555"},{"offset":0.112,"color":"#555"},{"offset":0.112,"color":"rgba(255,255,255,0)"},{"offset":0.15,"color":"rgba(255,255,255,0)"},
{"offset":0.15,"color":"#555"},{"offset":0.162,"color":"#555"},{"offset":0.162,"color":"rgba(255,255,255,0)"},{"offset":0.2,"color":"rgba(255,255,255,0)"},
{"offset":0.2,"color":"#555"},{"offset":0.212,"color":"#555"},{"offset":0.212,"color":"rgba(255,255,255,0)"},{"offset":0.25,"color":"rgba(255,255,255,0)"},
{"offset":0.25,"color":"#555"},{"offset":0.262,"color":"#555"},{"offset":0.262,"color":"rgba(255,255,255,0)"},{"offset":0.3,"color":"rgba(255,255,255,0)"},
{"offset":0.3,"color":"#555"},{"offset":0.312,"color":"#555"},{"offset":0.312,"color":"rgba(255,255,255,0)"},{"offset":0.35,"color":"rgba(255,255,255,0)"},
{"offset":0.35,"color":"#555"},{"offset":0.362,"color":"#555"},{"offset":0.362,"color":"rgba(255,255,255,0)"},{"offset":0.4,"color":"rgba(255,255,255,0)"},
{"offset":0.4,"color":"#555"},{"offset":0.412,"color":"#555"},{"offset":0.412,"color":"rgba(255,255,255,0)"},{"offset":0.45,"color":"rgba(255,255,255,0)"},
{"offset":0.45,"color":"#555"},{"offset":0.462,"color":"#555"},{"offset":0.462,"color":"rgba(255,255,255,0)"},{"offset":0.5,"color":"rgba(255,255,255,0)"},
{"offset":0.5,"color":"#555"},{"offset":0.512,"color":"#555"},{"offset":0.512,"color":"rgba(255,255,255,0)"},{"offset":0.55,"color":"rgba(255,255,255,0)"},
{"offset":0.55,"color":"#555"},{"offset":0.562,"color":"#555"},{"offset":0.562,"color":"rgba(255,255,255,0)"},{"offset":0.6,"color":"rgba(255,255,255,0)"},
{"offset":0.6,"color":"#555"},{"offset":0.612,"color":"#555"},{"offset":0.612,"color":"rgba(255,255,255,0)"},{"offset":0.65,"color":"rgba(255,255,255,0)"},
{"offset":0.65,"color":"#555"},{"offset":0.662,"color":"#555"},{"offset":0.662,"color":"rgba(255,255,255,0)"},{"offset":0.7,"color":"rgba(255,255,255,0)"},
{"offset":0.7,"color":"#555"},{"offset":0.712,"color":"#555"},{"offset":0.712,"color":"rgba(255,255,255,0)"},{"offset":0.75,"color":"rgba(255,255,255,0)"},
{"offset":0.75,"color":"#555"},{"offset":0.762,"color":"#555"},{"offset":0.762,"color":"rgba(255,255,255,0)"},{"offset":0.8,"color":"rgba(255,255,255,0)"},
{"offset":0.8,"color":"#555"},{"offset":0.812,"color":"#555"},{"offset":0.812,"color":"rgba(255,255,255,0)"},{"offset":0.85,"color":"rgba(255,255,255,0)"},
{"offset":0.85,"color":"#555"},{"offset":0.862,"color":"#555"},{"offset":0.862,"color":"rgba(255,255,255,0)"},{"offset":0.9,"color":"rgba(255,255,255,0)"},
{"offset":0.9,"color":"#555"},{"offset":0.912,"color":"#555"},{"offset":0.912,"color":"rgba(255,255,255,0)"},{"offset":0.95,"color":"rgba(255,255,255,0)"},
{"offset":0.95,"color":"#555"},{"offset":0.962,"color":"#555"},{"offset":0.962,"color":"rgba(255,255,255,0)"},{"offset":1,"color":"rgba(255,255,255,0)"}]}}
}
}
}
